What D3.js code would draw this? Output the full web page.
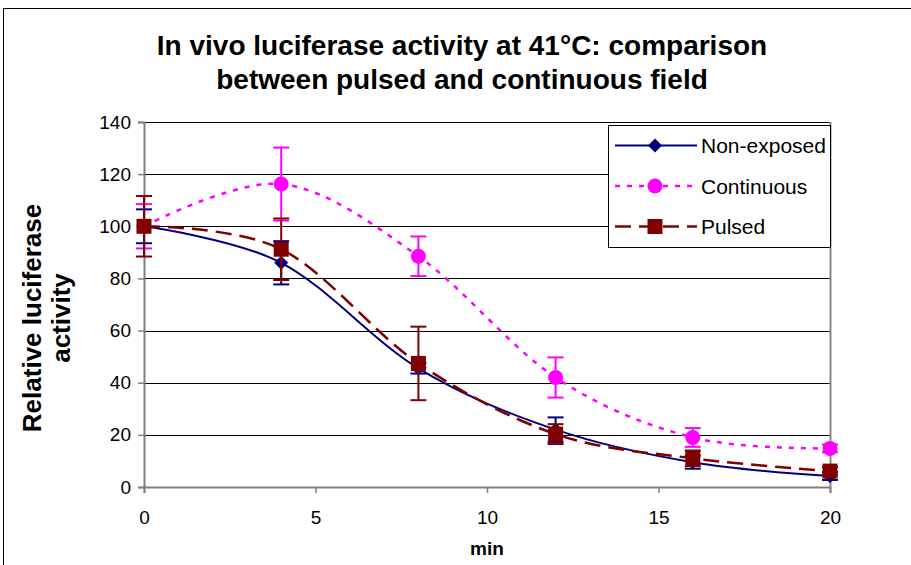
<!DOCTYPE html>
<html>
<head>
<meta charset="utf-8">
<script src="https://cdn.jsdelivr.net/npm/d3@7"></script>
<style>
  body { margin: 0; background: #fff; }
  svg { display: block; font-family: "Liberation Sans", Arial, sans-serif; }
</style>
</head>
<body>
<script>
const minutes = [0, 4, 8, 12, 16, 20];
const nonExposed = [100, 86, 45.5, 22, 9.5, 4.2];
const nonExposedErr = [6.5, 8.3, 2, 4.7, 2.5, 1.5];
const continuous = [100, 116.2, 88.5, 42, 19, 14.8];
const continuousErr = [8.5, 14, 7.6, 7.7, 3.6, 1.5];
const pulsed = [100, 91.2, 47.4, 20.3, 11, 6.1];
const pulsedErr = [11.6, 11.8, 14.1, 3.8, 3, 1.5];
const yTicks = [0, 20, 40, 60, 80, 100, 120, 140];
const xTicks = [0, 5, 10, 15, 20];

const series = [
  { name: "Non-exposed", values: nonExposed, err: nonExposedErr, color: "#000080", dash: null, width: 2, marker: "diamond" },
  { name: "Continuous", values: continuous, err: continuousErr, color: "#ff00ff", dash: "5,7", width: 2.5, marker: "circle" },
  { name: "Pulsed", values: pulsed, err: pulsedErr, color: "#800000", dash: "16,8", width: 2.5, marker: "square" }
];

const width = 911, height = 565;
const svg = d3.select("body").append("svg").attr("width", width).attr("height", height);

// outer chart border
svg.append("rect").attr("x", 3.5).attr("y", 8.5).attr("width", 920).attr("height", 580)
  .attr("fill", "none").attr("stroke", "#000").attr("stroke-width", 1);

const x = d3.scaleLinear().domain([0, 20]).range([144, 830]);
const y = d3.scaleLinear().domain([0, 140]).range([487, 122]);

// title
svg.append("text").attr("x", 462).attr("y", 55).attr("text-anchor", "middle")
  .attr("font-size", 28).attr("font-weight", "bold").text("In vivo luciferase activity at 41°C: comparison");
svg.append("text").attr("x", 462).attr("y", 89).attr("text-anchor", "middle")
  .attr("font-size", 28).attr("font-weight", "bold").text("between pulsed and continuous field");

// gridlines
svg.append("g").selectAll("line").data(yTicks.filter(d => d > 0)).join("line")
  .attr("x1", x(0)).attr("x2", x(20)).attr("y1", d => Math.round(y(d)) + 0.5).attr("y2", d => Math.round(y(d)) + 0.5)
  .attr("stroke", "#000").attr("stroke-width", 1);

// right border
svg.append("line").attr("x1", x(20) + 0.5).attr("x2", x(20) + 0.5).attr("y1", y(140)).attr("y2", y(0))
  .attr("stroke", "#888").attr("stroke-width", 2);

// axes
const yAxis = svg.append("g").attr("transform", `translate(${x(0)},0)`)
  .call(d3.axisLeft(y).tickValues(yTicks).tickSize(6).tickPadding(7));
const xAxis = svg.append("g").attr("transform", `translate(0,${y(0)})`)
  .call(d3.axisBottom(x).tickValues(xTicks).tickSize(6).tickPadding(18));
[yAxis, xAxis].forEach(a => {
  a.select(".domain").attr("stroke", "#808080").attr("stroke-width", 2);
  a.selectAll(".tick line").attr("stroke", "#808080").attr("stroke-width", 1.5);
  a.selectAll("text").attr("font-size", 19).attr("fill", "#000").attr("font-family", "Liberation Sans, Arial, sans-serif");
});

// axis titles
svg.append("text").attr("x", 487).attr("y", 555).attr("text-anchor", "middle")
  .attr("font-size", 19).attr("font-weight", "bold").text("min");
const yt = svg.append("text").attr("transform", "translate(41,318) rotate(-90)")
  .attr("text-anchor", "middle").attr("font-size", 26).attr("font-weight", "bold");
yt.append("tspan").attr("x", 0).attr("dy", 0).text("Relative luciferase");
yt.append("tspan").attr("x", 0).attr("dy", 29).text("activity");

const line = d3.line().x((d, i) => x(minutes[i])).y(d => y(d)).curve(d3.curveCardinal.tension(0));

function drawMarker(g, type, color) {
  if (type === "diamond") {
    g.append("path").attr("d", "M0,-7L7,0L0,7L-7,0Z").attr("fill", color);
  } else if (type === "circle") {
    g.append("circle").attr("r", 7.5).attr("fill", color);
  } else {
    g.append("rect").attr("x", -7.5).attr("y", -7.5).attr("width", 15).attr("height", 15).attr("fill", color);
  }
}

series.forEach(s => {
  const g = svg.append("g");
  // error bars
  minutes.forEach((m, i) => {
    const cx = x(m), lo = y(s.values[i] - s.err[i]), hi = y(s.values[i] + s.err[i]);
    g.append("line").attr("x1", cx).attr("x2", cx).attr("y1", lo).attr("y2", hi)
      .attr("stroke", s.color).attr("stroke-width", 2);
    [lo, hi].forEach(yy => g.append("line").attr("x1", cx - 8).attr("x2", cx + 8).attr("y1", yy).attr("y2", yy)
      .attr("stroke", s.color).attr("stroke-width", 2));
  });
  g.append("path").datum(s.values).attr("d", line).attr("fill", "none")
    .attr("stroke", s.color).attr("stroke-width", s.width).attr("stroke-dasharray", s.dash);
  minutes.forEach((m, i) => {
    const mg = g.append("g").attr("transform", `translate(${x(m)},${y(s.values[i])})`);
    drawMarker(mg, s.marker, s.color);
  });
});

// legend
const legend = svg.append("g");
legend.append("rect").attr("x", 608.5).attr("y", 125.5).attr("width", 222).attr("height", 122)
  .attr("fill", "#fff").attr("stroke", "#000").attr("stroke-width", 1);
series.forEach((s, i) => {
  const ly = 145.5 + i * 40.5;
  legend.append("line").attr("x1", 615).attr("x2", 697).attr("y1", ly).attr("y2", ly)
    .attr("stroke", s.color).attr("stroke-width", s.width).attr("stroke-dasharray", s.dash);
  drawMarker(legend.append("g").attr("transform", `translate(655,${ly})`), s.marker, s.color);
  legend.append("text").attr("x", 701).attr("y", ly + 7.5).attr("font-size", 21).text(s.name);
});
</script>
</body>
</html>
